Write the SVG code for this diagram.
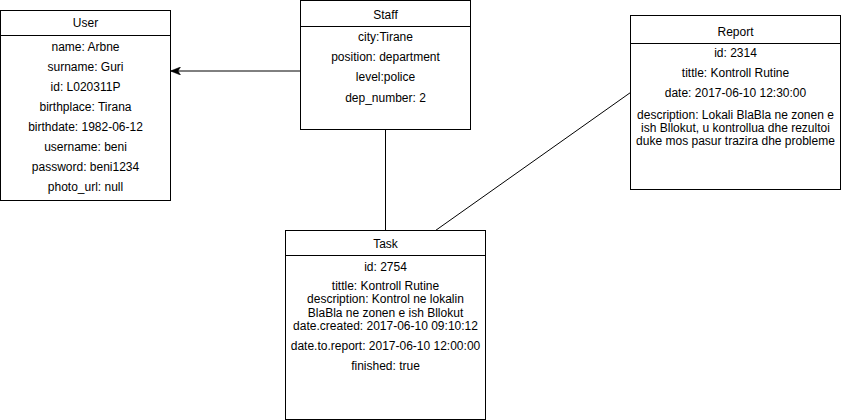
<svg xmlns="http://www.w3.org/2000/svg" width="841" height="420" viewBox="0 0 841 420">
<defs>
<style>
.box{fill:#fff;stroke:#000;stroke-width:1}
.t{font-family:"Liberation Sans",Arial,sans-serif;font-size:12px;fill:#000;text-anchor:middle}
.c{fill:none;stroke:#000;stroke-width:1}
</style>
<marker id="arr" viewBox="0 0 10 8" refX="9.5" refY="4" markerWidth="10" markerHeight="8" markerUnits="userSpaceOnUse" orient="auto">
<path d="M0,0 L10,4 L0,8 L2.5,4 Z" fill="#000" stroke="#000" stroke-width="0.5"/>
</marker>
</defs>
<rect width="841" height="420" fill="#fff"/>
<g id="connectors">
<line class="c" x1="300.5" y1="71" x2="171" y2="71" marker-end="url(#arr)"/>
<line class="c" x1="385.5" y1="129.5" x2="385.5" y2="230.5"/>
<line class="c" x1="435.5" y1="230.5" x2="630.5" y2="92.5"/>
</g>
<g id="user">
<rect class="box" x="0.5" y="10.5" width="170" height="190"/>
<line class="c" x1="0.5" y1="35.5" x2="170.5" y2="35.5"/>
<text class="t" x="85.5" y="27">User</text>
<text class="t" x="85.5" y="51">name: Arbne</text>
<text class="t" x="85.5" y="71">surname: Guri</text>
<text class="t" x="85.5" y="91">id: L020311P</text>
<text class="t" x="85.5" y="111">birthplace: Tirana</text>
<text class="t" x="85.5" y="131">birthdate: 1982-06-12</text>
<text class="t" x="85.5" y="151">username: beni</text>
<text class="t" x="85.5" y="171">password: beni1234</text>
<text class="t" x="85.5" y="191">photo_url: null</text>
</g>
<g id="staff">
<rect class="box" x="300.5" y="0.5" width="170" height="129"/>
<line class="c" x1="300.5" y1="26.5" x2="470.5" y2="26.5"/>
<text class="t" x="385.5" y="19">Staff</text>
<text class="t" x="385.5" y="41">city:Tirane</text>
<text class="t" x="385.5" y="61">position: department</text>
<text class="t" x="385.5" y="81">level:police</text>
<text class="t" x="385.5" y="102">dep_number: 2</text>
</g>
<g id="report">
<rect class="box" x="630.5" y="15.5" width="210" height="174"/>
<line class="c" x1="630.5" y1="43.5" x2="840.5" y2="43.5"/>
<text class="t" x="735.5" y="36">Report</text>
<text class="t" x="735.5" y="57">id: 2314</text>
<text class="t" x="735.5" y="77">tittle: Kontroll Rutine</text>
<text class="t" x="735.5" y="97">date: 2017-06-10 12:30:00</text>
<text class="t" x="735.5" y="119">description: Lokali BlaBla ne zonen e</text>
<text class="t" x="735.5" y="132">ish Bllokut, u kontrollua dhe rezultoi</text>
<text class="t" x="735.5" y="145">duke mos pasur trazira dhe probleme</text>
</g>
<g id="task">
<rect class="box" x="285.5" y="230.5" width="200" height="189"/>
<line class="c" x1="285.5" y1="255.5" x2="485.5" y2="255.5"/>
<text class="t" x="385.5" y="248">Task</text>
<text class="t" x="385.5" y="271">id: 2754</text>
<text class="t" x="385.5" y="290">tittle: Kontroll Rutine</text>
<text class="t" x="385.5" y="303">description: Kontrol ne lokalin</text>
<text class="t" x="385.5" y="317">BlaBla ne zonen e ish Bllokut</text>
<text class="t" x="385.5" y="330">date.created: 2017-06-10 09:10:12</text>
<text class="t" x="385.5" y="350">date.to.report: 2017-06-10 12:00:00</text>
<text class="t" x="385.5" y="370">finished: true</text>
</g>
</svg>
